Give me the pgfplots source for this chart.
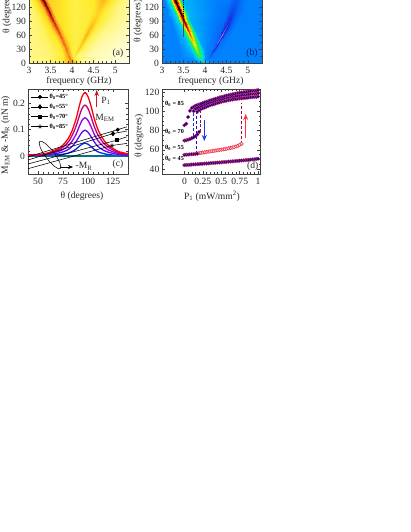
\documentclass[border=0pt]{standalone}
\usepackage{fontspec}
\setmainfont{Liberation Serif}
\usepackage{pgfplots}
\usepackage{pgfplotstable}
\pgfplotsset{compat=1.18}
\usetikzlibrary{arrows.meta}

% theta-P1 hysteresis
\pgfplotstableread{
P     a     b     c
0     85.5  nan   nan
0.025 87    nan   nan
0.05  94    nan   nan
0.075 100.5 nan   nan
0.1   103.3 nan   nan
0.125 104.6 100   nan
0.15  105.6 102.3 nan
0.175 106.4 103.6 99.5
0.2   107.1 104.6 101.2
0.225 107.8 105.4 102.2
0.25  108.5 106.2 103
0.275 109.2 107   103.8
0.3   109.9 107.8 104.6
0.325 110.5 108.5 105.4
0.35  111.2 109.2 106.2
0.375 111.8 109.8 106.8
0.4   112.4 110.4 107.4
0.425 113   111   108
0.45  113.6 111.5 108.6
0.475 114.2 112   109.2
0.5   114.7 112.5 109.7
0.525 115.2 113   110.2
0.55  115.7 113.5 110.6
0.575 116.2 113.9 111
0.6   116.7 114.3 111.4
0.625 117.1 114.7 111.8
0.65  117.5 115.1 112.1
0.675 117.9 115.4 112.4
0.7   118.3 115.7 112.7
0.725 118.7 116   113
0.75  119   116.3 113.2
0.775 119.3 116.6 113.4
0.8   119.6 116.9 113.6
0.825 119.9 117.1 113.8
0.85  120.2 117.3 114
0.875 120.5 117.5 114.2
0.9   120.8 117.7 114.4
0.925 121   117.9 114.6
0.95  121.2 118.1 114.8
0.975 121.5 118.3 115
1     121.8 118.5 115.2
}\branchup
\pgfplotstableread{
P     a     b     c
0     44.2  54.8  69.6
0.025 44.4  55    70
0.05  44.5  55.1  70.6
0.075 44.6  55.3  71.2
0.1   44.8  55.4  72
0.125 44.9  55.6  73
0.15  45    55.8  74.2
0.175 45.2  56    76
0.2   45.3  nan   78.6
0.225 45.5  nan   nan
0.25  45.6  nan   nan
0.275 45.8  nan   nan
0.3   45.9  nan   nan
0.325 46    nan   nan
0.35  46.2  nan   nan
0.375 46.3  nan   nan
0.4   46.5  nan   nan
0.425 46.6  nan   nan
0.45  46.8  nan   nan
0.475 46.9  nan   nan
0.5   47.1  nan   nan
0.525 47.3  nan   nan
0.55  47.4  nan   nan
0.575 47.6  nan   nan
0.6   47.8  nan   nan
0.625 47.9  nan   nan
0.65  48.1  nan   nan
0.675 48.2  nan   nan
0.7   48.4  nan   nan
0.725 48.6  nan   nan
0.75  48.8  nan   nan
0.775 48.9  nan   nan
0.8   49.1  nan   nan
0.825 49.3  nan   nan
0.85  49.5  nan   nan
0.875 49.7  nan   nan
0.9   49.9  nan   nan
0.925 50.1  nan   nan
0.95  50.3  nan   nan
0.975 50.5  nan   nan
1     50.8  nan   nan
}\branchlow
\pgfplotstableread{
P     c
0.2   56.6
0.225 56.9
0.25  57.2
0.275 57.5
0.3   57.8
0.325 58.1
0.35  58.4
0.375 58.7
0.4   59
0.425 59.3
0.45  59.6
0.475 59.9
0.5   60.2
0.525 60.5
0.55  60.8
0.575 61.2
0.6   61.6
0.625 62
0.65  62.4
0.675 62.9
0.7   63.5
0.725 64.2
0.75  65.2
0.775 66.2
}\branchred

\definecolor{dred}{RGB}{240,45,70}
\definecolor{dnavy}{RGB}{0,0,165}
\pgfplotsset{
  panel/.style={
    scale only axis,
    axis line style={black!75,line width=0.7bp},
    tick style={black!75,line width=0.5bp},
    tick align=inside,
    major tick length=3bp,
    minor tick length=1.6bp,
    tick label style={font=\fontsize{9.6}{10}\selectfont,black!85},
    xticklabel style={yshift=-0.5bp},
    yticklabel style={xshift=0.5bp},
    /pgf/number format/assume math mode=true,
    /pgf/number format/fixed,
    /pgf/number format/precision=2,
  },
  heat/.style={
    panel,
    width=100bp,
    height=70bp,
    xmin=3, ymin=0, ymax=150,
    xtick={3,3.5,4,4.5,5},
    minor x tick num=4,
    ytick={0,30,60,90,120},
    minor y tick num=1,
    xticklabels={3,3.5,4,4.5,5},
    point meta min=0, point meta max=1,
    axis on top,
  },
  fulldot/.style={only marks, mark=*, mark size=1.85bp,
    mark options={draw=dred, fill=dnavy, line width=0.3bp}},
  opendot/.style={only marks, mark=*, mark size=1.75bp,
    mark options={draw=dred, fill=white!90!dred, line width=0.55bp}},
}

\begin{document}
\begin{tikzpicture}
\useasboundingbox (0,0) rectangle (411bp,-532bp);

% (a)
\begin{axis}[heat, at={(29bp,-63bp)}, anchor=south west, xmax=5.32,
  colormap={hotr}{rgb255(0)=(255,255,235) rgb255(20)=(255,247,135) rgb255(35)=(255,234,40)
    rgb255(55)=(255,170,30) rgb255(75)=(228,72,20) rgb255(90)=(145,12,10) rgb255(100)=(85,0,0)}]
\addplot[surf, shader=interp, mesh/rows=12, point meta=explicit]
  table[x=x, y=y, meta=z, row sep=\\]{
x y z\\
3.0 0 .2\\ 3.4 0 .22\\ 3.72 0 .3\\ 3.86 0 .45\\ 3.96 0 .62\\ 4.06 0 .42\\ 4.16 0 .28\\ 4.3 0 .2\\ 4.42 0 .14\\ 4.55 0 .1\\ 4.7 0 .07\\ 4.85 0 .05\\ 5.0 0 .03\\ 5.2 0 .02\\ 5.4 0 .01\\
3.0 8 .2\\ 3.4 8 .22\\ 3.74 8 .32\\ 3.88 8 .48\\ 3.94 8 .64\\ 4.0 8 .48\\ 4.06 8 .3\\ 4.2 8 .2\\ 4.35 8 .14\\ 4.5 8 .1\\ 4.65 8 .07\\ 4.8 8 .05\\ 5.0 8 .03\\ 5.2 8 .02\\ 5.4 8 .01\\
3.0 15 .2\\ 3.45 15 .23\\ 3.78 15 .33\\ 3.87 15 .5\\ 3.92 15 .65\\ 3.96 15 .52\\ 3.99 15 .38\\ 4.01 15 .3\\ 4.03 15 .28\\ 4.045 15 .33\\ 4.06 15 .42\\ 4.07 15 .32\\ 4.12 15 .22\\ 4.4 15 .12\\ 5.4 15 .01\\
3.0 30 .2\\ 3.45 30 .24\\ 3.75 30 .34\\ 3.82 30 .5\\ 3.87 30 .66\\ 3.92 30 .5\\ 3.98 30 .36\\ 4.03 30 .3\\ 4.08 30 .3\\ 4.12 30 .36\\ 4.15 30 .46\\ 4.18 30 .36\\ 4.25 30 .26\\ 4.5 30 .14\\ 5.4 30 .02\\
3.0 45 .2\\ 3.4 45 .25\\ 3.68 45 .36\\ 3.75 45 .52\\ 3.80 45 .68\\ 3.85 45 .52\\ 3.92 45 .36\\ 4.05 45 .3\\ 4.14 45 .3\\ 4.21 45 .4\\ 4.24 45 .5\\ 4.27 45 .4\\ 4.34 45 .28\\ 4.6 45 .16\\ 5.4 45 .04\\
3.0 60 .2\\ 3.35 60 .26\\ 3.6 60 .38\\ 3.67 60 .55\\ 3.72 60 .72\\ 3.77 60 .55\\ 3.84 60 .38\\ 4.05 60 .3\\ 4.23 60 .32\\ 4.3 60 .44\\ 4.33 60 .54\\ 4.36 60 .44\\ 4.43 60 .3\\ 4.7 60 .18\\ 5.4 60 .06\\
3.0 75 .2\\ 3.3 75 .26\\ 3.52 75 .4\\ 3.59 75 .6\\ 3.64 75 .78\\ 3.69 75 .58\\ 3.76 75 .38\\ 4.05 75 .3\\ 4.3 75 .33\\ 4.38 75 .44\\ 4.42 75 .51\\ 4.46 75 .44\\ 4.54 75 .32\\ 4.8 75 .2\\ 5.4 75 .08\\
3.0 90 .2\\ 3.26 90 .27\\ 3.44 90 .42\\ 3.51 90 .65\\ 3.56 90 .84\\ 3.61 90 .62\\ 3.68 90 .4\\ 4.05 90 .3\\ 4.36 90 .33\\ 4.45 90 .41\\ 4.5 90 .46\\ 4.55 90 .41\\ 4.64 90 .32\\ 4.9 90 .22\\ 5.4 90 .1\\
3.0 105 .2\\ 3.19 105 .27\\ 3.37 105 .44\\ 3.44 105 .7\\ 3.49 105 .9\\ 3.54 105 .64\\ 3.61 105 .4\\ 4.05 105 .3\\ 4.42 105 .33\\ 4.52 105 .39\\ 4.58 105 .43\\ 4.64 105 .39\\ 4.74 105 .32\\ 5.0 105 .22\\ 5.4 105 .12\\
3.0 120 .22\\ 3.12 120 .28\\ 3.3 120 .46\\ 3.37 120 .74\\ 3.42 120 .95\\ 3.47 120 .66\\ 3.54 120 .42\\ 4.05 120 .3\\ 4.47 120 .34\\ 4.58 120 .41\\ 4.65 120 .46\\ 4.72 120 .41\\ 4.84 120 .32\\ 5.05 120 .22\\ 5.4 120 .14\\
3.0 135 .24\\ 3.05 135 .28\\ 3.21 135 .48\\ 3.28 135 .78\\ 3.33 135 1\\ 3.38 135 .7\\ 3.45 135 .44\\ 4.05 135 .3\\ 4.5 135 .36\\ 4.63 135 .45\\ 4.71 135 .52\\ 4.79 135 .45\\ 4.92 135 .34\\ 5.1 135 .24\\ 5.4 135 .16\\
2.95 150 .24\\ 3.0 150 .28\\ 3.13 150 .48\\ 3.2 150 .78\\ 3.25 150 1\\ 3.3 150 .7\\ 3.37 150 .44\\ 4.05 150 .3\\ 4.55 150 .36\\ 4.68 150 .45\\ 4.76 150 .52\\ 4.84 150 .45\\ 4.97 150 .34\\ 5.15 150 .24\\ 5.4 150 .16\\
};
\end{axis}

% (b)
\begin{axis}[heat, at={(162bp,-63bp)}, anchor=south west, xmax=5.33,
  colormap={jetish}{rgb255(0)=(195,185,245) rgb255(5)=(95,65,215) rgb255(10)=(20,40,225) rgb255(20)=(0,130,255)
    rgb255(30)=(0,205,245) rgb255(40)=(0,240,150) rgb255(50)=(70,235,40) rgb255(65)=(255,240,0)
    rgb255(75)=(255,130,0) rgb255(85)=(225,0,0) rgb255(95)=(45,0,0) rgb255(100)=(0,0,0)}]
\addplot[surf, shader=interp, mesh/rows=12, point meta=explicit]
  table[x=x, y=y, meta=z, row sep=\\]{
x y z\\
3.0 0 .2\\ 3.4 0 .2\\ 3.72 0 .2\\ 3.86 0 .22\\ 3.96 0 .26\\ 4.06 0 .22\\ 4.16 0 .2\\ 4.3 0 .2\\ 4.42 0 .2\\ 4.55 0 .2\\ 4.7 0 .2\\ 4.85 0 .2\\ 5.0 0 .2\\ 5.2 0 .2\\ 5.4 0 .2\\
3.0 8 .2\\ 3.4 8 .2\\ 3.72 8 .21\\ 3.85 8 .3\\ 3.90 8 .38\\ 3.95 8 .3\\ 4.0 8 .21\\ 4.03 8 .2\\ 4.05 8 .2\\ 4.06 8 .19\\ 4.07 8 .18\\ 4.08 8 .19\\ 4.1 8 .2\\ 4.3 8 .2\\ 5.4 8 .2\\
3.0 15 .2\\ 3.4 15 .2\\ 3.72 15 .25\\ 3.81 15 .39\\ 3.87 15 .49\\ 3.93 15 .39\\ 4.01 15 .23\\ 4.05 15 .2\\ 4.09 15 .19\\ 4.11 15 .16\\ 4.12 15 .13\\ 4.13 15 .16\\ 4.16 15 .19\\ 4.35 15 .2\\ 5.4 15 .2\\
3.0 30 .2\\ 3.4 30 .2\\ 3.65 30 .27\\ 3.74 30 .45\\ 3.80 30 .59\\ 3.86 30 .45\\ 3.95 30 .25\\ 4.05 30 .2\\ 4.17 30 .19\\ 4.21 30 .14\\ 4.22 30 .08\\ 4.235 30 .14\\ 4.27 30 .19\\ 4.45 30 .2\\ 5.4 30 .2\\
3.0 45 .2\\ 3.35 45 .2\\ 3.58 45 .28\\ 3.67 45 .5\\ 3.73 45 .69\\ 3.79 45 .5\\ 3.88 45 .25\\ 4.1 45 .2\\ 4.26 45 .18\\ 4.295 45 .1\\ 4.31 45 .03\\ 4.325 45 .1\\ 4.36 45 .18\\ 4.5 45 .2\\ 5.4 45 .2\\
3.0 60 .2\\ 3.3 60 .2\\ 3.51 60 .29\\ 3.6 60 .56\\ 3.66 60 .78\\ 3.72 60 .55\\ 3.81 60 .26\\ 4.1 60 .2\\ 4.34 60 .17\\ 4.385 60 .08\\ 4.40 60 .02\\ 4.415 60 .08\\ 4.46 60 .17\\ 4.6 60 .2\\ 5.4 60 .2\\
3.0 75 .2\\ 3.25 75 .2\\ 3.44 75 .3\\ 3.53 75 .62\\ 3.59 75 .85\\ 3.65 75 .58\\ 3.74 75 .26\\ 4.15 75 .2\\ 4.4 75 .17\\ 4.47 75 .1\\ 4.49 75 .05\\ 4.51 75 .1\\ 4.58 75 .17\\ 4.7 75 .2\\ 5.4 75 .2\\
3.0 90 .2\\ 3.2 90 .2\\ 3.37 90 .31\\ 3.45 90 .68\\ 3.51 90 .92\\ 3.57 90 .62\\ 3.66 90 .26\\ 4.15 90 .2\\ 4.45 90 .175\\ 4.54 90 .12\\ 4.56 90 .08\\ 4.59 90 .12\\ 4.67 90 .175\\ 4.8 90 .2\\ 5.4 90 .2\\
3.0 105 .2\\ 3.15 105 .2\\ 3.31 105 .31\\ 3.39 105 .72\\ 3.45 105 .98\\ 3.51 105 .64\\ 3.6 105 .27\\ 4.2 105 .2\\ 4.49 105 .18\\ 4.59 105 .14\\ 4.62 105 .125\\ 4.66 105 .14\\ 4.76 105 .18\\ 4.92 105 .2\\ 5.4 105 .2\\
3.0 120 .2\\ 3.1 120 .2\\ 3.24 120 .33\\ 3.32 120 .75\\ 3.38 120 1\\ 3.44 120 .66\\ 3.53 120 .27\\ 4.2 120 .2\\ 4.53 120 .18\\ 4.63 120 .15\\ 4.67 120 .14\\ 4.71 120 .15\\ 4.82 120 .18\\ 4.98 120 .2\\ 5.4 120 .2\\
3.0 135 .2\\ 3.05 135 .2\\ 3.17 135 .33\\ 3.25 135 .78\\ 3.31 135 1\\ 3.37 135 .68\\ 3.46 135 .27\\ 4.2 135 .2\\ 4.56 135 .19\\ 4.67 135 .165\\ 4.72 135 .155\\ 4.77 135 .165\\ 4.88 135 .19\\ 5.02 135 .2\\ 5.4 135 .2\\
2.95 150 .2\\ 3.0 150 .2\\ 3.1 150 .33\\ 3.18 150 .78\\ 3.24 150 1\\ 3.3 150 .68\\ 3.39 150 .27\\ 4.2 150 .2\\ 4.58 150 .19\\ 4.71 150 .165\\ 4.76 150 .155\\ 4.81 150 .165\\ 4.93 150 .19\\ 5.07 150 .2\\ 5.4 150 .2\\
};
\addplot[black, line width=0.8bp, densely dotted] coordinates {(3.5,150) (3.5,90)};
\addplot[black!70, line width=0.5bp] coordinates {(3.5,90) (3.5,55)};
\end{axis}

% (c)
\begin{axis}[panel, at={(28bp,-174bp)}, anchor=south west, width=100bp, height=85bp,
  xmin=40, xmax=140, ymin=-0.068, ymax=0.254,
  xtick={50,75,100,125}, minor x tick num=4,
  ytick={0,0.1,0.2}, minor y tick num=4,
  yticklabels={0,0.1,0.2},
  legend style={at={(0.02,0.965)}, anchor=north west, draw=none, fill=none,
    font=\fontsize{6.3}{7}\selectfont\bfseries, row sep=2.4bp, inner sep=1bp,
    nodes={inner sep=0.8bp}},
  legend cell align=left]
\addplot[forget plot, smooth, color={rgb,255:red,0;green,40;blue,240}, line width=1.3bp] coordinates {(40,0) (50,.001) (60,.002) (70,.005) (75,.007) (80,.011) (84,.017) (88,.026) (91,.036) (94,.045) (97,.049) (100,.045) (103,.036) (106,.026) (110,.016) (115,.01) (120,.006) (130,.002) (140,.001)};
\addplot[forget plot, color={rgb,255:red,0;green,115;blue,140}, line width=1.3bp] coordinates {(40,0) (140,0)};
\addplot[forget plot, smooth, color={rgb,255:red,95;green,10;blue,245}, line width=1.3bp] coordinates {(40,0.002) (50,.003) (60,.005) (70,.011) (75,.016) (80,.024) (84,.036) (88,.054) (91,.073) (94,.09) (97,.098) (100,.09) (103,.074) (106,.055) (110,.036) (115,.023) (120,.015) (130,.006) (140,.003)};
\addplot[forget plot, smooth, color={rgb,255:red,150;green,0;blue,225}, line width=1.3bp] coordinates {(40,.003) (50,.004) (60,.008) (70,.017) (75,.025) (80,.038) (84,.056) (88,.082) (91,.11) (94,.135) (97,.145) (100,.135) (103,.112) (106,.085) (110,.058) (115,.038) (120,.024) (130,.01) (140,.005)};
\addplot[forget plot, smooth, color={rgb,255:red,190;green,0;blue,130}, line width=1.3bp] coordinates {(40,.004) (50,.005) (60,.01) (70,.023) (75,.034) (80,.052) (84,.077) (88,.112) (91,.148) (94,.18) (97,.193) (100,.18) (103,.15) (106,.114) (110,.08) (115,.052) (120,.034) (130,.014) (140,.007)};
\addplot[forget plot, smooth, color={rgb,255:red,255;green,0;blue,10}, line width=1.3bp] coordinates {(40,.005) (50,.006) (60,.012) (70,.028) (75,.042) (80,.065) (84,.095) (88,.14) (91,.185) (94,.225) (97,.241) (100,.225) (103,.19) (106,.145) (110,.1) (115,.065) (120,.042) (130,.018) (140,.009)};
\addplot[black, line width=0.55bp, mark=*, mark size=1.7bp, mark indices={2}] coordinates {(40,-.003) (129.7,.1) (139,.111)};
\addplot[black, line width=0.55bp, mark=diamond*, mark size=2.2bp, mark indices={2}] coordinates {(40,-.015) (125,.085) (139,.095)};
\addplot[black, line width=0.55bp, mark=square*, mark size=1.5bp, mark indices={2}] coordinates {(40,-.03) (128.7,.06) (139,.073)};
\addplot[black, line width=0.55bp, mark=star, mark size=2.2bp, mark indices={2}] coordinates {(40,-.048) (124,.04) (139,.048)};
\legend{θ\textsubscript{0}=45°,θ\textsubscript{0}=55°,θ\textsubscript{0}=70°,θ\textsubscript{0}=85°}
\end{axis}

% (d)
\begin{axis}[panel, at={(162.3bp,-174bp)}, anchor=south west, width=98bp, height=85bp,
  xmin=-0.3, xmax=1.03, ymin=35, ymax=123,
  xtick={0,0.25,0.5,0.75,1}, xticklabels={0,0.25,0.5,0.75,1}, minor x tick num=4,
  ytick={40,60,80,100,120}, minor y tick num=3]
\addplot[color={rgb,255:red,40;green,40;blue,220}, densely dashed, line width=0.6bp] coordinates {(0.12,74) (0.12,100)};
\addplot[color={rgb,255:red,20;green,20;blue,180}, densely dashed, line width=0.6bp] coordinates {(0.165,56) (0.165,99)};
\addplot[color={rgb,255:red,150;green,15;blue,50}, densely dashed, line width=0.6bp] coordinates {(0.21,78) (0.21,105)};
\addplot[color={rgb,255:red,150;green,15;blue,50}, densely dashed, line width=0.6bp] coordinates {(0.775,66) (0.775,109)};
\addplot[opendot] table[x=P,y=c]{\branchred};
\addplot[fulldot] table[x=P,y=a]{\branchlow};
\addplot[fulldot] table[x=P,y=b]{\branchlow};
\addplot[fulldot] table[x=P,y=c]{\branchlow};
\addplot[fulldot] table[x=P,y=c]{\branchup};
\addplot[fulldot] table[x=P,y=b]{\branchup};
\addplot[fulldot] table[x=P,y=a]{\branchup};
\end{axis}

% text and arrows, in reference pixels
\begin{scope}[x=1bp,y=-1bp,font=\fontsize{9.6}{11}\selectfont,text=black!85]
\node at (79,81) {frequency (GHz)};
\node at (211,81) {frequency (GHz)};
\node[rotate=90] at (7,12.5) {θ (degrees)};
\node[rotate=90] at (138,21) {θ (degrees)};
\node at (118,52.7) {(a)};
\node[text={rgb,255:red,10;green,30;blue,90}] at (252,52.7) {(b)};
\node[rotate=90] at (5.5,135) {M\textsubscript{EM} \& -M\textsubscript{R} (nN m)};
\node at (82,196) {θ (degrees)};
\node at (118,164) {(c)};
\node at (105,118) {M\textsubscript{EM}};
\node at (106,101) {P\textsubscript{1}};
\node at (84,166.5) {-M\textsubscript{R}};
\draw[black, line width=0.55bp, rotate around={37:(50,155)}] (50,155) ellipse [x radius=4.5bp, y radius=17bp];
\draw[black, line width=0.55bp, -{Stealth[length=5bp,width=4bp]}] (60,167) -- (73,167);
\draw[color={rgb,255:red,205;green,20;blue,45}, line width=0.9bp, -{Stealth[length=6bp,width=4.5bp]}] (96.7,106.5) -- (96.7,90);
\node[rotate=90] at (139,136) {θ (degrees)};
\node at (212,196) {P\textsubscript{1} (mW/mm\textsuperscript{2})};
\node at (252.7,166) {(d)};
\begin{scope}[font=\fontsize{6.2}{7}\selectfont\bfseries,text=black]
\node[anchor=west,inner sep=0] at (165,104) {θ\textsubscript{0} = 85};
\node[anchor=west,inner sep=0] at (165,132) {θ\textsubscript{0} = 70};
\node[anchor=west,inner sep=0] at (165,148) {θ\textsubscript{0} = 55};
\node[anchor=west,inner sep=0] at (165,159) {θ\textsubscript{0} = 45};
\end{scope}
\draw[color={rgb,255:red,20;green,60;blue,235}, line width=1.1bp, -{Stealth[length=6bp,width=5bp]}] (204.3,120) -- (204.3,141);
\draw[color={rgb,255:red,250;green,50;blue,65}, line width=1.1bp, -{Stealth[length=6bp,width=5bp]}] (245.7,138) -- (245.7,114);
\end{scope}
\end{tikzpicture}
\end{document}
